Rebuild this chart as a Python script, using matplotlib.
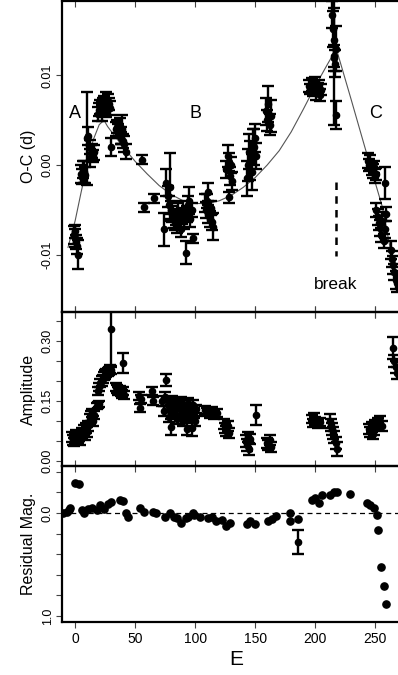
import numpy as np
import matplotlib.pyplot as plt

plt.rcParams['font.family'] = ['Liberation Sans', 'DejaVu Sans']

# O-C timings: cycle E, O-C (d), error
oc_E = [-1, 0, 1, -0.5, 2, 1.5,
        5, 6, 7, 8, 6.5,
        10,
        11, 12, 13, 14, 15, 16, 12.5,
        19, 20, 21, 22, 23, 24, 25, 26, 27, 28, 29, 22.5, 25.5,
        30,
        34, 35, 36, 37, 38, 39, 40, 41, 42, 38.5,
        56, 57, 66,
        74, 76, 77, 78, 79, 80, 81, 82, 83, 84, 85, 86, 87, 88, 89, 90, 91, 92, 93, 94, 95, 96, 97, 98,
        108, 109, 110, 111, 112, 113, 114, 115, 110.5,
        128,
        126, 127, 128, 129, 130, 131,
        143, 144, 145, 146, 147, 148, 149, 150, 151,
        159, 160, 161, 162, 163,
        195, 196, 197, 198, 199, 200, 201, 202, 203, 204, 205,
        214, 215, 216, 217, 215.5, 216.5, 217, 216,
        244, 245, 246, 247, 248, 249, 250, 251,
        258,
        251, 252, 253, 254, 255, 256, 257, 258, 259,
        263, 264, 265, 266, 267, 268]
oc = [-0.0078, -0.0082, -0.0086, -0.0074, -0.0100, -0.0090,
      -0.0010, -0.0013, -0.0008, -0.0011, -0.0005,
      0.0030,
      0.0032, 0.0020, 0.0013, 0.0016, 0.0010, 0.0014, 0.0008,
      0.0057, 0.0062, 0.0065, 0.0063, 0.0067, 0.0070, 0.0066, 0.0073, 0.0071, 0.0068, 0.0064, 0.0058, 0.0061,
      0.0020,
      0.0040, 0.0043, 0.0038, 0.0044, 0.0033, 0.0040, 0.0027, 0.0023, 0.0015, 0.0030,
      0.0006, -0.0047, -0.0037,
      -0.0072, -0.0020, -0.0035, -0.0045, -0.0025, -0.0050, -0.0055, -0.0060, -0.0065, -0.0058, -0.0068,
      -0.0052, -0.0062, -0.0072, -0.0057, -0.0050, -0.0063, -0.0098, -0.0055, -0.0045, -0.0040, -0.0060,
      -0.0050, -0.0082,
      -0.0042, -0.0050, -0.0040, -0.0055, -0.0060, -0.0048, -0.0064, -0.0069, -0.0030,
      -0.0036,
      -0.0005, 0.0010, 0.0003, -0.0012, 0.0000, -0.0018,
      -0.0015, 0.0000, 0.0015, 0.0005, -0.0008, 0.0025, 0.0020, 0.0030, 0.0010,
      0.0060, 0.0050, 0.0068, 0.0045, 0.0055,
      0.0088, 0.0085, 0.0090, 0.0083, 0.0087, 0.0092, 0.0080, 0.0086, 0.0089, 0.0078, 0.0084,
      0.0168, 0.0152, 0.0140, 0.0130, 0.0122, 0.0113, 0.0056, 0.0120,
      0.0005, 0.0000, 0.0003, -0.0004, -0.0007, -0.0002, -0.0012, -0.0010,
      -0.0020,
      -0.0050, -0.0058, -0.0065, -0.0070, -0.0078, -0.0062, -0.0085, -0.0072, -0.0055,
      -0.0095, -0.0105, -0.0112, -0.0120, -0.0128, -0.0132]
oc_err = [0.0010, 0.0010, 0.0008, 0.0007, 0.0016, 0.0009,
          0.0010, 0.0008, 0.0012, 0.0009, 0.0010,
          0.0052,
          0.0010, 0.0008, 0.0009, 0.0008, 0.0007, 0.0008, 0.0010,
          0.0008, 0.0007, 0.0008, 0.0007, 0.0008, 0.0007, 0.0008, 0.0009, 0.0008, 0.0007, 0.0008, 0.0009, 0.0007,
          0.0010,
          0.0008, 0.0007, 0.0008, 0.0008, 0.0009, 0.0016, 0.0008, 0.0009, 0.0008, 0.0007,
          0.0005, 0.0005, 0.0005,
          0.0018, 0.0015, 0.0012, 0.0010, 0.0038, 0.0010, 0.0009, 0.0010, 0.0008, 0.0009, 0.0008,
          0.0009, 0.0008, 0.0008, 0.0009, 0.0010, 0.0008, 0.0013, 0.0009, 0.0010, 0.0015, 0.0009,
          0.0008, 0.0005,
          0.0010, 0.0009, 0.0008, 0.0010, 0.0009, 0.0008, 0.0009, 0.0015, 0.0010,
          0.0006,
          0.0010, 0.0012, 0.0010, 0.0010, 0.0009, 0.0010,
          0.0020, 0.0018, 0.0020, 0.0022, 0.0020, 0.0015, 0.0020, 0.0016, 0.0015,
          0.0015, 0.0012, 0.0020, 0.0012, 0.0018,
          0.0007, 0.0006, 0.0007, 0.0006, 0.0007, 0.0006, 0.0007, 0.0006, 0.0006, 0.0007, 0.0006,
          0.0015, 0.0020, 0.0035, 0.0025, 0.0012, 0.0015, 0.0016, 0.0075,
          0.0008, 0.0007, 0.0008, 0.0007, 0.0008, 0.0007, 0.0008, 0.0007,
          0.0018,
          0.0008, 0.0009, 0.0008, 0.0009, 0.0008, 0.0009, 0.0008, 0.0009, 0.0008,
          0.0010, 0.0009, 0.0010, 0.0009, 0.0010, 0.0010]

# model curve (three segments A, B, C)
fit_E = [-6, 0, 5, 10, 15, 20, 24,
         27, 40, 50, 60, 70, 80, 90, 100, 110, 120, 130, 140, 150, 160, 170, 180, 190, 200, 210, 216,
         218, 230, 242, 256, 268]
fit_oc = [-0.0092, -0.0062, -0.0030, 0.0000, 0.0028, 0.0045, 0.0050,
          0.0043, 0.0020, 0.0004, -0.0010, -0.0023, -0.0033, -0.0040, -0.0043, -0.0043, -0.0040,
          -0.0034, -0.0025, -0.0014, 0.0000, 0.0016, 0.0037, 0.0062, 0.0088, 0.0112, 0.0126,
          0.0128, 0.0073, 0.0017, -0.0047, -0.0132]

# amplitude
amp_E = [-3, -2, -1, 0, 1, 2, 3, 4,
         6, 7, 8, 9, 10, 11,
         12, 13, 14, 15, 16,
         18, 19, 20,
         19, 20, 21, 22, 23, 24, 25, 26, 27, 28, 29, 30,
         30, 40,
         34, 35, 36, 37, 38, 39, 40, 41,
         53, 54, 55, 64, 65, 76,
         72, 74, 75, 77, 78, 79, 80, 81, 82, 83, 84, 85, 86, 87, 88, 89, 90, 91, 92, 93, 94, 95, 97,
         98, 99, 100, 101,
         108, 110, 112, 114, 116, 118,
         124, 125, 126, 127, 128,
         142, 143, 144, 145, 146, 151,
         160, 161, 162, 163,
         197, 198, 199, 200, 202, 204,
         212, 213, 214, 215, 216, 217, 218,
         245, 246, 247, 248, 249, 250, 252, 254, 256,
         265, 266, 267, 268]
amp = [0.060, 0.052, 0.048, 0.058, 0.066, 0.055, 0.062, 0.050,
       0.070, 0.078, 0.065, 0.082, 0.072, 0.088,
       0.105, 0.112, 0.120, 0.100, 0.115,
       0.138, 0.140, 0.142,
       0.175, 0.185, 0.195, 0.200, 0.206, 0.212, 0.216, 0.220, 0.222, 0.226, 0.230, 0.228,
       0.330, 0.245,
       0.185, 0.180, 0.176, 0.178, 0.172, 0.168, 0.175, 0.165,
       0.162, 0.132, 0.155, 0.175, 0.150, 0.202,
       0.150, 0.125, 0.160, 0.140, 0.110, 0.135, 0.085, 0.150, 0.120, 0.145, 0.130, 0.105, 0.140,
       0.115, 0.150, 0.125, 0.100, 0.140, 0.120, 0.080, 0.145, 0.110, 0.082,
       0.140, 0.120, 0.100, 0.130,
       0.128, 0.122, 0.118, 0.125, 0.115, 0.120,
       0.092, 0.082, 0.075, 0.088, 0.070,
       0.050, 0.040, 0.060, 0.030, 0.055, 0.115,
       0.045, 0.040, 0.052, 0.035,
       0.105, 0.095, 0.110, 0.100, 0.092, 0.098,
       0.100, 0.090, 0.080, 0.070, 0.060, 0.045, 0.030,
       0.080, 0.072, 0.085, 0.068, 0.078, 0.090, 0.095, 0.100, 0.088,
       0.282, 0.250, 0.235, 0.220]
amp_err = [0.012, 0.012, 0.010, 0.012, 0.012, 0.010, 0.012, 0.010,
           0.012, 0.012, 0.012, 0.012, 0.012, 0.012,
           0.012, 0.012, 0.010, 0.012, 0.010,
           0.008, 0.008, 0.008,
           0.010, 0.010, 0.010, 0.012, 0.010, 0.010, 0.012, 0.010, 0.010, 0.010, 0.010, 0.010,
           0.095, 0.025,
           0.010, 0.010, 0.010, 0.010, 0.010, 0.010, 0.010, 0.010,
           0.010, 0.010, 0.010, 0.010, 0.010, 0.015,
           0.012, 0.012, 0.012, 0.012, 0.012, 0.012, 0.020, 0.012, 0.012, 0.012, 0.012, 0.012, 0.012,
           0.012, 0.010, 0.012, 0.012, 0.012, 0.012, 0.015, 0.012, 0.012, 0.020,
           0.012, 0.012, 0.012, 0.010,
           0.010, 0.010, 0.010, 0.010, 0.010, 0.010,
           0.012, 0.012, 0.012, 0.012, 0.012,
           0.015, 0.015, 0.012, 0.015, 0.012, 0.025,
           0.012, 0.012, 0.012, 0.012,
           0.010, 0.010, 0.010, 0.010, 0.010, 0.010,
           0.018, 0.015, 0.015, 0.015, 0.015, 0.015, 0.018,
           0.012, 0.012, 0.012, 0.012, 0.012, 0.012, 0.012, 0.012, 0.012,
           0.028, 0.015, 0.015, 0.015]

# residual magnitude
res_E = [-10, -7, -4, -5, 0, 3, 7, 6, 11, 14, 18, 21, 24, 27, 30, 37.5, 40, 42, 44,
         54, 57, 65, 67, 75, 79, 82, 85, 88, 92, 94, 99,
         98, 104, 111, 114, 117, 122, 126, 129, 143, 146, 150, 161, 164, 167, 179, 179, 186,
         197.5, 200, 203, 206, 212, 215.5, 218, 229, 243, 246, 249, 251.5, 252.5, 255, 257, 259]
res = [0.0, -0.01, -0.05, -0.03, -0.29, -0.28, 0.0, -0.03, -0.04, -0.05, -0.03, -0.08, -0.04, -0.09, -0.11,
       -0.13, -0.12, 0.0, 0.035,
       -0.05, -0.01, -0.01, 0.0, 0.035, 0.0, 0.035, 0.05, 0.10, 0.05, 0.035, 0.016,
       0.0, 0.035, 0.05, 0.035, 0.08, 0.065, 0.13, 0.10, 0.11, 0.08, 0.11, 0.08, 0.06, 0.03, 0.0, 0.08, 0.06,
       -0.13, -0.15, -0.10, -0.17, -0.17, -0.20, -0.20, -0.18, -0.10, -0.08, -0.05, 0.016, 0.165, 0.52, 0.71, 0.88]
res_bar_E = [186]
res_bar = [0.28]
res_bar_err = [0.115]

break_E = 217

fig = plt.figure(figsize=(3.98, 6.75), dpi=100)
H = 675.0
ax1 = fig.add_axes([62/398, (H-312)/H, 348/398, 311/H])
ax2 = fig.add_axes([62/398, (H-466)/H, 348/398, 154/H])
ax3 = fig.add_axes([62/398, (H-622)/H, 348/398, 156/H])

eb = dict(fmt='o', color='black', ms=4.5, elinewidth=1.7, capsize=4, capthick=1.7)

ax1.plot(fit_E, fit_oc, color='#555555', lw=0.8, zorder=1)
ax1.errorbar(oc_E, oc, yerr=oc_err, **eb)
ax1.plot([break_E, break_E], [-0.0019, -0.0102], color='black', lw=1.8, ls=(0, (3, 2.5)))
ax1.text(0, 0.0058, 'A', fontsize=13, ha='center', va='center')
ax1.text(100, 0.0058, 'B', fontsize=13, ha='center', va='center')
ax1.text(250, 0.0058, 'C', fontsize=13, ha='center', va='center')
ax1.text(break_E, -0.0133, 'break', fontsize=12.5, ha='center', va='center')
ax1.set_ylim(-0.01642, 0.01832)
ax1.set_yticks([-0.01, 0.0, 0.01])
ax1.set_yticklabels(['-0.01', '0.00', '0.01'])
ax1.set_ylabel('O-C (d)', fontsize=11.5, labelpad=4)

ax2.errorbar(amp_E, amp, yerr=amp_err, **eb)
ax2.set_ylim(-0.0125, 0.3725)
ax2.set_yticks(np.arange(0, 0.36, 0.05), minor=True)
ax2.set_yticks([0.0, 0.15, 0.30])
ax2.set_yticklabels(['0.00', '0.15', '0.30'])
ax2.set_ylabel('Amplitude', fontsize=11.5, labelpad=4)

ax3.axhline(0, color='black', lw=0.9, ls=(0, (4, 3)))
ax3.plot(res_E, res, 'o', color='black', ms=5.2)
ax3.errorbar(res_bar_E, res_bar, yerr=res_bar_err, **eb)
ax3.set_ylim(1.058, -0.456)
ax3.set_yticks(np.arange(-0.4, 1.01, 0.2), minor=True)
ax3.set_yticks([0.0, 1.0])
ax3.set_yticklabels(['0.0', '1.0'])
ax3.set_ylabel('Residual Mag.', fontsize=11.5, labelpad=4)
ax3.set_xlabel('E', fontsize=15, labelpad=3)

for ax in (ax1, ax2, ax3):
    ax.set_facecolor('none')
    ax.set_xlim(-11, 279)
    ax.set_xticks([0, 50, 100, 150, 200, 250])
    for s in ax.spines.values():
        s.set_linewidth(1.6)
    ax.spines['right'].set_visible(False)
    ax.tick_params(axis='y', which='both', direction='out', length=4, width=0.8,
                   color='#444444', labelsize=9, pad=2)
    for lab in ax.get_yticklabels():
        lab.set_rotation(90)
        lab.set_va('center')

for ax in (ax1, ax2):
    ax.tick_params(axis='x', which='both', direction='inout', length=9, width=0.8,
                   color='#444444', top=True, bottom=True, labelbottom=False)

ax3.tick_params(axis='x', direction='out', length=4, width=0.8, color='#444444',
                labelsize=10, pad=3, top=False)

fig.savefig('out.png', dpi=100)
